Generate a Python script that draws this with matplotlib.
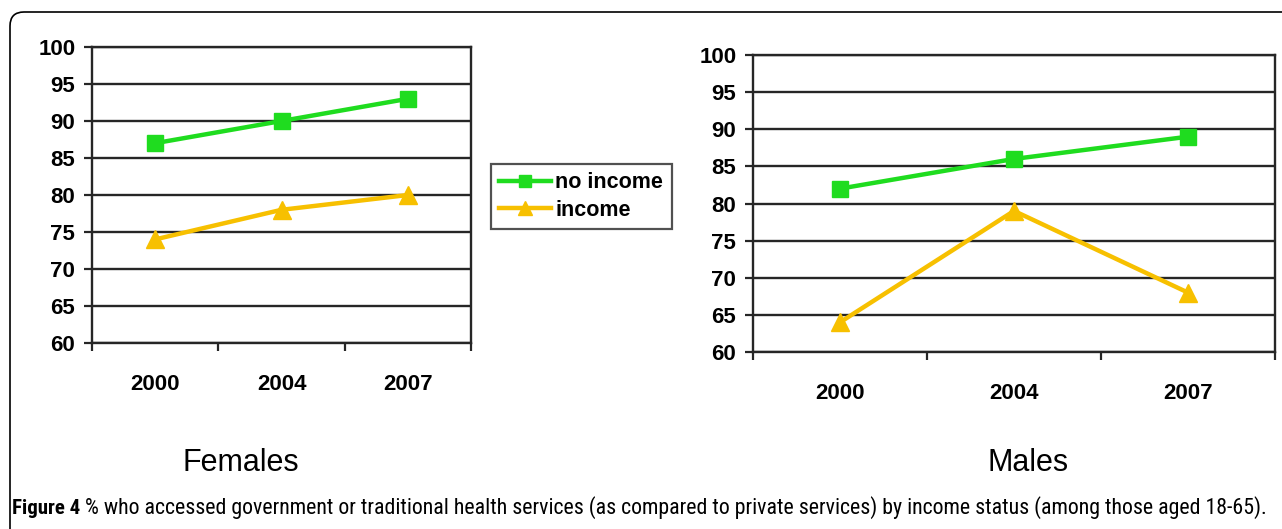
import matplotlib
matplotlib.use('Agg')
from matplotlib import pyplot as plt
from matplotlib.patches import FancyBboxPatch
from matplotlib.transforms import IdentityTransform

# data
years = ['2000', '2004', '2007']
female_no_income = [87, 90, 93]
female_income = [74, 78, 80]
male_no_income = [82, 86, 89]
male_income = [64, 79, 68]
y_ticks = [60, 65, 70, 75, 80, 85, 90, 95, 100]

green = '#1fdc1f'
gold = '#f7c000'
line_col = '#262626'

plt.rcParams['font.family'] = ['Liberation Sans', 'DejaVu Sans']

fig = plt.figure(figsize=(12.82, 5.29), dpi=100)
W, H = 1282, 529


def panel(rect, no_inc, inc):
    ax = fig.add_axes(rect)
    x = range(len(years))
    ax.plot(x, no_inc, color=green, lw=3.2, marker='s', ms=12, label='no income', zorder=3)
    ax.plot(x, inc, color=gold, lw=3.2, marker='^', ms=13, label='income', zorder=3)
    ax.set_xlim(-0.5, len(years) - 0.5)
    ax.set_ylim(60, 100)
    ax.set_yticks(y_ticks)
    ax.set_xticks(list(x))
    ax.set_xticklabels(years)
    ax.set_xticks([-0.5, 0.5, 1.5, 2.5], minor=True)
    ax.tick_params(axis='x', which='major', length=0, pad=22)
    ax.tick_params(axis='x', which='minor', length=6, width=1.6, color=line_col)
    ax.tick_params(axis='y', length=6, width=1.6, color=line_col, pad=6)
    for lab in ax.get_xticklabels() + ax.get_yticklabels():
        lab.set_fontsize(16)
        lab.set_fontweight('bold')
    ax.grid(axis='y', color=line_col, lw=1.7)
    ax.set_axisbelow(True)
    for s in ax.spines.values():
        s.set_color(line_col)
        s.set_linewidth(1.7)
    return ax


ax1 = panel([92 / W, (H - 343) / H, 379 / W, 296 / H], female_no_income, female_income)
ax2 = panel([753 / W, (H - 352) / H, 522 / W, 297 / H], male_no_income, male_income)

handles, labels = ax1.get_legend_handles_labels()
leg = fig.legend(handles, labels, loc='upper left', bbox_to_anchor=(480 / W, (H - 153) / H),
                 prop={'weight': 'bold', 'size': 15.5}, frameon=True, fancybox=False,
                 edgecolor=line_col, handlelength=2.4, handletextpad=0.2,
                 borderpad=0.4, labelspacing=0.3, markerscale=0.75)
leg.get_frame().set_linewidth(1.6)

fig.text(241 / W, (H - 463) / H, 'Females', ha='center', va='center', fontsize=22)
fig.text(1028 / W, (H - 463) / H, 'Males', ha='center', va='center', fontsize=22)

# rounded frame around the panel
frame = FancyBboxPatch((10, -30), 1320, H - 12 + 30, boxstyle='round,pad=0,rounding_size=14',
                       transform=IdentityTransform(), fill=False, edgecolor='black', lw=1.2)
fig.patches.append(frame)

# caption
cap_fonts = ['Roboto Condensed', 'Liberation Sans Narrow', 'Roboto', 'DejaVu Sans']
cap_y = (H - 508) / H
t1 = fig.text(12 / W, cap_y, 'Figure 4', fontsize=15, fontweight='bold', family=cap_fonts,
              va='center', ha='left')
rest = (' % who accessed government or traditional health services (as compared to private '
        'services) by income status (among those aged 18-65).')
fig.canvas.draw()
r = fig.canvas.get_renderer()
bb = t1.get_window_extent(r)
t2 = fig.text(bb.x1 / W, cap_y, rest, fontsize=15, family=cap_fonts, va='center', ha='left')
bb2 = t2.get_window_extent(r)
# fit caption so it ends near the right edge like the original
scale = (1272 - bb.x1) / bb2.width
t2.set_fontsize(min(15 * scale, 17))

fig.savefig('out.png', dpi=100)
